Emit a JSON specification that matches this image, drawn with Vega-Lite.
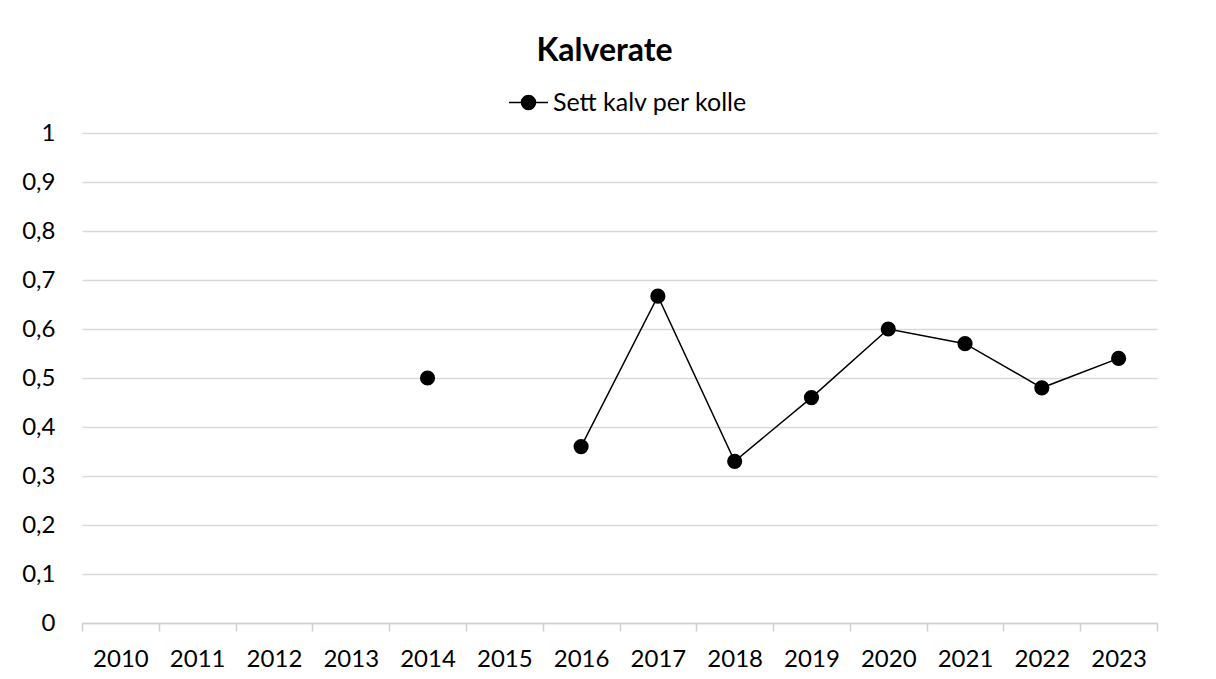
{
  "$schema": "https://vega.github.io/schema/vega-lite/v6.json",
  "autosize": {"type": "none"},
  "width": 1075,
  "height": 490,
  "padding": {"left": 82, "top": 133, "right": 59, "bottom": 56},
  "background": "white",
  "title": {
    "text": "Kalverate",
    "font": "Lato",
    "fontSize": 32,
    "fontWeight": "bold",
    "color": "#000000",
    "anchor": "middle",
    "frame": "group",
    "dx": -15,
    "offset": 14
  },
  "data": {
    "values": [
      {"year": "2010", "value": null},
      {"year": "2011", "value": null},
      {"year": "2012", "value": null},
      {"year": "2013", "value": null},
      {"year": "2014", "value": 0.5},
      {"year": "2015", "value": null},
      {"year": "2016", "value": 0.36},
      {"year": "2017", "value": 0.667},
      {"year": "2018", "value": 0.33},
      {"year": "2019", "value": 0.46},
      {"year": "2020", "value": 0.6},
      {"year": "2021", "value": 0.57},
      {"year": "2022", "value": 0.48},
      {"year": "2023", "value": 0.54}
    ]
  },
  "encoding": {
    "x": {
      "field": "year",
      "type": "ordinal",
      "scale": {
        "domain": ["2010","2011","2012","2013","2014","2015","2016","2017","2018","2019","2020","2021","2022","2023"],
        "paddingInner": 0,
        "paddingOuter": 0
      },
      "axis": {
        "title": null,
        "labelAngle": 0,
        "tickBand": "extent",
        "tickSize": 8,
        "tickColor": "#d0d0d0",
        "tickWidth": 1.5,
        "domainColor": "#d0d0d0",
        "domainWidth": 1.5,
        "grid": false,
        "labelFont": "Lato",
        "labelFontSize": 24,
        "labelColor": "#000000",
        "labelPadding": 16
      }
    },
    "y": {
      "field": "value",
      "type": "quantitative",
      "scale": {"domain": [0, 1], "nice": false, "zero": true},
      "axis": {
        "title": null,
        "values": [0, 0.1, 0.2, 0.3, 0.4, 0.5, 0.6, 0.7, 0.8, 0.9, 1],
        "labelExpr": "replace(format(datum.value, '.1~f'), '.', ',')",
        "domain": false,
        "ticks": false,
        "grid": true,
        "gridColor": "#d9d9d9",
        "gridWidth": 1.5,
        "labelFont": "Lato",
        "labelFontSize": 24,
        "labelColor": "#000000",
        "labelPadding": 27
      }
    },
    "color": {
      "datum": "Sett kalv per kolle",
      "type": "nominal",
      "scale": {"range": ["#000000"]},
      "legend": {
        "title": null,
        "orient": "none",
        "legendX": 426,
        "legendY": -51,
        "symbolType": "M-1,0H1M-0.36,0A0.36,0.36 0 1,1 0.36,0A0.36,0.36 0 1,1 -0.36,0Z",
        "symbolSize": 1521,
        "symbolStrokeWidth": 1.5,
        "symbolFillColor": "#000000",
        "symbolStrokeColor": "#000000",
        "labelFont": "Lato",
        "labelFontSize": 25,
        "labelLimit": 500,
        "labelColor": "#000000",
        "labelOffset": 4
      }
    }
  },
  "layer": [
    {
      "mark": {"type": "line", "strokeWidth": 1.5, "invalid": "break-paths-show-domains"}
    },
    {
      "mark": {"type": "point", "filled": true, "shape": "circle", "size": 230, "opacity": 1}
    }
  ],
  "config": {"view": {"stroke": null}}
}
